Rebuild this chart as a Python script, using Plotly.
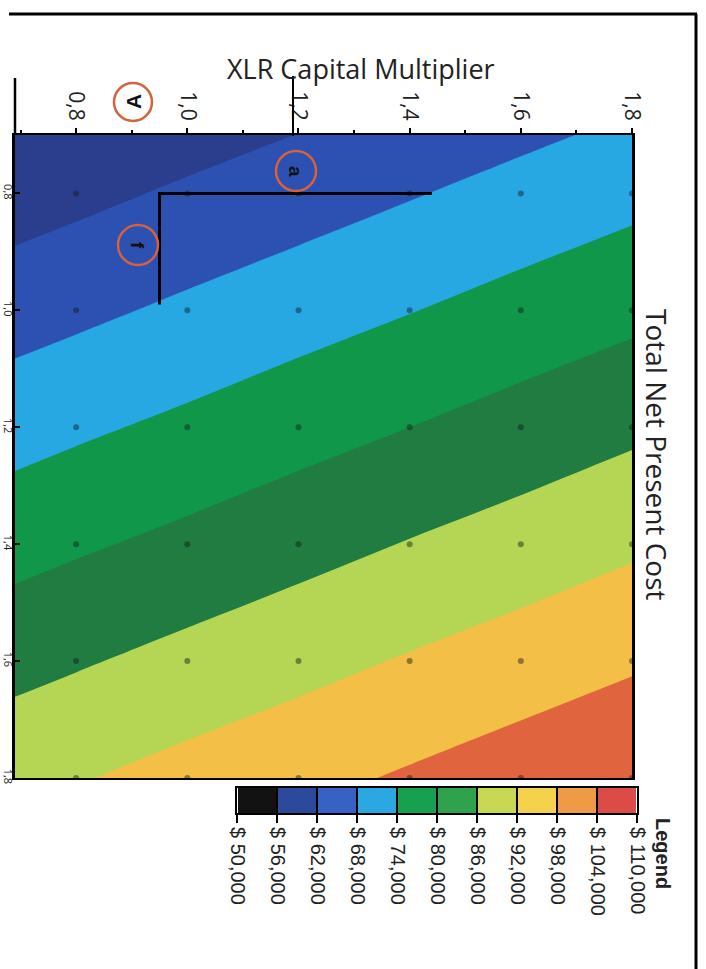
import plotly.graph_objects as go

# ---------------- data ----------------
x_grid = [0.6, 0.8, 1.0, 1.2, 1.4, 1.6, 1.8, 2.0]          # XLR Capital Multiplier
y_grid = [0.6, 0.8, 1.0, 1.2, 1.4, 1.6, 1.8]               # second multiplier (vertical axis)
npc = [                                                     # Total Net Present Cost ($)
    [51900, 54300, 56700, 59000, 61400, 63700, 66100, 68500],
    [58200, 60500, 62900, 65200, 67600, 70000, 72300, 74700],
    [64400, 66700, 69100, 71500, 73800, 76200, 78500, 80900],
    [70600, 73000, 75300, 77700, 80000, 82400, 84800, 87100],
    [76800, 79200, 81500, 83900, 86300, 88600, 91000, 93300],
    [83000, 85400, 87800, 90100, 92500, 94800, 97200, 99600],
    [89300, 91600, 94000, 96300, 98700, 101100, 103400, 105800],
]
dot_x = [0.8, 1.0, 1.2, 1.4, 1.6, 1.8]
dot_y = [0.8, 1.0, 1.2, 1.4, 1.6, 1.8]
tick_vals = [0.8, 1.0, 1.2, 1.4, 1.6, 1.8]
tick_text = ["0,8", "1,0", "1,2", "1,4", "1,6", "1,8"]

legend_levels = [50000, 56000, 62000, 68000, 74000, 80000, 86000, 92000, 98000, 104000, 110000]
legend_labels = ["$ 50,000", "$ 56,000", "$ 62,000", "$ 68,000", "$ 74,000", "$ 80,000",
                 "$ 86,000", "$ 92,000", "$ 98,000", "$ 104,000", "$ 110,000"]
legend_colors = ["#121212", "#2C4A9C", "#3761C2", "#2BA8E2", "#17A050", "#2FA24E",
                 "#C9D852", "#F5D24C", "#EE9B46", "#DC4B45"]
plot_colors = ["#121212", "#2B3E8E", "#2D51B2", "#27A8E2", "#11974A", "#207C40",
               "#B5D554", "#F3BF47", "#E0643D", "#DC4B45"]

W, H = 706, 969


def step_scale(colors):
    n = len(colors)
    cs = []
    for i, c in enumerate(colors):
        cs.append([i / n, c])
        cs.append([(i + 1) / n, c])
    return cs


def px(x):
    return x / W


def py(y):
    return 1 - y / H


fig = go.Figure()

fig.add_trace(go.Contour(
    x=x_grid, y=y_grid, z=npc,
    zmin=legend_levels[0], zmax=legend_levels[-1],
    autocontour=False,
    contours=dict(start=legend_levels[0], end=legend_levels[-1],
                  size=legend_levels[1] - legend_levels[0],
                  coloring="fill", showlines=False),
    line=dict(width=0),
    colorscale=step_scale(plot_colors),
    showscale=False, hoverinfo="skip",
))

dx, dy = [], []
for yy in dot_y:
    for xx in dot_x:
        dx.append(xx)
        dy.append(yy)
fig.add_trace(go.Scatter(
    x=dx, y=dy, mode="markers",
    marker=dict(size=6, color="rgba(20,25,30,0.45)", line=dict(width=0)),
    hoverinfo="skip", showlegend=False, cliponaxis=True,
))

# legend bar
mids = [(legend_levels[i] + legend_levels[i + 1]) / 2 for i in range(len(legend_levels) - 1)]
fig.add_trace(go.Heatmap(
    x=legend_levels, y=[0, 1], z=[mids],
    zmin=legend_levels[0], zmax=legend_levels[-1],
    colorscale=step_scale(legend_colors), showscale=False,
    xgap=2, xaxis="x2", yaxis="y2", hoverinfo="skip",
))

tick_font = dict(family="Open Sans", size=21, color="#222222")

fig.update_layout(
    template="none",
    width=W, height=H,
    margin=dict(l=0, r=0, t=0, b=0, pad=0, autoexpand=False),
    paper_bgcolor="white", plot_bgcolor="white",
    showlegend=False,
    xaxis=dict(
        domain=[px(15), px(632)], range=[0.69, 1.8], side="top", automargin=False,
        tickvals=tick_vals, ticktext=tick_text, tickangle=90, tickfont=tick_font,
        ticks="outside", ticklen=5, tickwidth=2, tickcolor="black",
        minor=dict(dtick=0.1, ticks="outside", ticklen=3, tickcolor="black", tickwidth=1.5),
        showline=True, linecolor="black", linewidth=2, mirror=True,
        showgrid=False, zeroline=False, anchor="y",
    ),
    yaxis=dict(
        domain=[py(778), py(135)], range=[1.8, 0.7], automargin=False,
        tickvals=tick_vals, ticktext=tick_text, tickangle=90,
        tickfont=dict(family="Open Sans", size=11, color="#222222"),
        ticks="inside", ticklen=5, tickwidth=2, tickcolor="black",
        ticklabelstandoff=-5,
        showline=True, linecolor="black", linewidth=2.5, mirror=True,
        showgrid=False, zeroline=False, anchor="x",
    ),
    xaxis2=dict(
        domain=[px(237), px(637)], range=[legend_levels[0], legend_levels[-1]],
        anchor="y2", side="bottom", automargin=False,
        tickvals=legend_levels, ticktext=legend_labels, tickangle=90,
        tickfont=dict(family="Liberation Sans", size=20, color="#222222"),
        ticks="outside", ticklen=8, tickwidth=2, tickcolor="black",
        showline=True, linecolor="black", linewidth=2, mirror=True,
        showgrid=True, gridcolor="black", gridwidth=2, zeroline=False,
    ),
    yaxis2=dict(
        domain=[py(813), py(788)], range=[0, 1], anchor="x2", automargin=False,
        showticklabels=False, ticks="", showgrid=False, zeroline=False,
        showline=True, linecolor="black", linewidth=2, mirror=True,
    ),
)

shapes = []
line_black = dict(color="black", width=3)
# page frame lines of the scanned figure
shapes.append(dict(type="line", xref="paper", yref="paper", x0=px(9), x1=px(697), y0=py(14), y1=py(14), line=line_black))
shapes.append(dict(type="line", xref="paper", yref="paper", x0=px(696), x1=px(696), y0=py(14), y1=py(969), line=line_black))
shapes.append(dict(type="line", xref="paper", yref="paper", x0=px(15), x1=px(15), y0=py(78), y1=py(135), line=dict(color="black", width=2.5)))
shapes.append(dict(type="line", xref="paper", yref="paper", x0=px(293), x1=px(293), y0=py(76), y1=py(136), line=dict(color="black", width=2)))
# L-shaped marker inside the plot
shapes.append(dict(type="path", xref="x", yref="y", path="M 0.95,0.99 L 0.95,0.8 L 1.44,0.8",
                   line=dict(color="black", width=3)))
# circled labels
for cx, cy, r in [(133, 102, 19), (296, 171, 20), (138, 245, 20)]:
    shapes.append(dict(type="circle", xref="paper", yref="paper",
                       x0=px(cx - r), x1=px(cx + r), y0=py(cy + r), y1=py(cy - r),
                       line=dict(color="#D5613D", width=2.5)))
fig.update_layout(shapes=shapes)

ann = []
ann.append(dict(text="XLR Capital Multiplier", x=px(361), y=py(68), xref="paper", yref="paper",
                showarrow=False, xanchor="center", yanchor="middle",
                font=dict(family="Open Sans", size=27, color="#222222")))
ann.append(dict(text="Total Net Present Cost", x=px(657), y=py(455), xref="paper", yref="paper",
                showarrow=False, xanchor="center", yanchor="middle", textangle=90,
                font=dict(family="Open Sans", size=28, color="#222222")))
ann.append(dict(text="<b>Legend</b>", x=px(663), y=py(853), xref="paper", yref="paper",
                showarrow=False, xanchor="center", yanchor="middle", textangle=90,
                font=dict(family="Liberation Sans", size=20, color="#222222")))
ann.append(dict(text="<b>A</b>", x=px(133), y=py(102), xref="paper", yref="paper",
                showarrow=False, xanchor="center", yanchor="middle", textangle=-90,
                font=dict(family="Liberation Sans", size=21, color="#111111")))
ann.append(dict(text="<b>a</b>", x=px(296), y=py(171), xref="paper", yref="paper",
                showarrow=False, xanchor="center", yanchor="middle", textangle=90,
                font=dict(family="Liberation Sans", size=19, color="#111111")))
ann.append(dict(text="<b>f</b>", x=px(138), y=py(245), xref="paper", yref="paper",
                showarrow=False, xanchor="center", yanchor="middle", textangle=90,
                font=dict(family="Liberation Sans", size=19, color="#111111")))
fig.update_layout(annotations=ann)

fig.write_html(
    "out.html",
    config={"displayModeBar": False},
    post_script="document.documentElement.style.margin='0';document.body.style.margin='0';"
                "document.body.style.overflow='hidden';",
)
